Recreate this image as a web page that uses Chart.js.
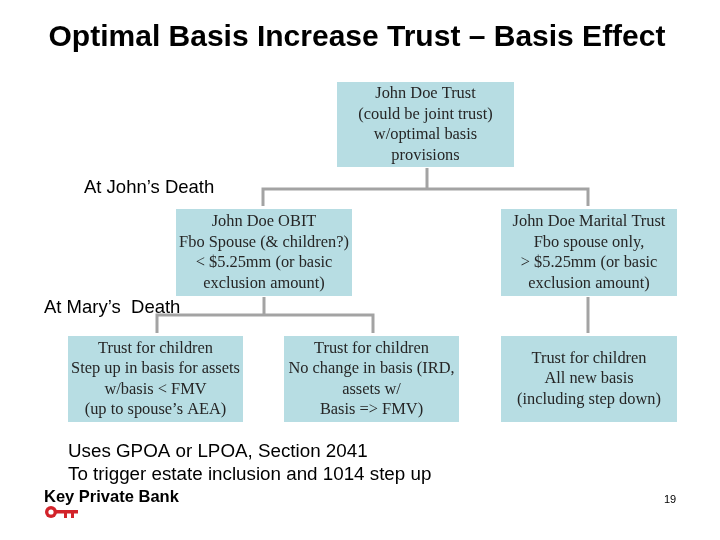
<!DOCTYPE html>
<html>
<head>
<meta charset="utf-8">
<script src="https://cdn.jsdelivr.net/npm/chart.js@4.4.1/dist/chart.umd.min.js"></script>
<style>
  html, body { margin: 0; padding: 0; background: #ffffff; }
  #wrap { width: 720px; height: 540px; }
</style>
</head>
<body>
<div id="wrap"><canvas id="diagram" width="720" height="540"></canvas></div>
<script>
// --- content ---
const titleText = "Optimal Basis Increase Trust \u2013 Basis Effect";
const stageLabels = ["At John\u2019s Death", "At Mary\u2019s  Death"];
const boxLabels = [
    ["John Doe Trust", "(could be joint trust)", "w/optimal basis", "provisions"],
    ["John Doe OBIT", "Fbo Spouse (& children?)", "< $5.25mm (or basic", "exclusion amount)"],
    ["John Doe Marital Trust", "Fbo spouse only,", "> $5.25mm (or basic", "exclusion amount)"],
    ["Trust for children", "Step up in basis for assets", "w/basis < FMV", "(up to spouse\u2019s AEA)"],
    ["Trust for children", "No change in basis (IRD,", "assets w/", "Basis => FMV)"],
    ["Trust for children", "All new basis", "(including step down)"]
];
const footerLines = ["Uses GPOA or LPOA, Section 2041", "To trigger estate inclusion and 1014 step up"];
const brandText = "Key Private Bank";
const pageNumber = "19";

// --- layout (pixel space of a 720x540 slide) ---
const boxRects = [
    [337, 82, 514, 167],
    [176, 209, 352, 296],
    [501, 209, 677, 296],
    [68, 336, 243, 422],
    [284, 336, 459, 422],
    [501, 336, 677, 422]
];
const connectorPaths = [
    [[427, 168], [427, 189]],
    [[263, 206], [263, 189], [588, 189], [588, 206]],
    [[264, 297], [264, 315]],
    [[157, 333], [157, 315], [373, 315], [373, 333]],
    [[588, 297], [588, 333]]
];
const stagePos = [[84, 188], [44, 308]];

const BOX_FILL = '#b7dde3';
const LINE_COLOR = '#a3a3a3';

const px = (chart, x, y) => [chart.scales.x.getPixelForValue(x), chart.scales.y.getPixelForValue(y)];

const slidePlugin = {
    id: 'slide',
    beforeDatasetsDraw(chart) {
        const ctx = chart.ctx;
        ctx.save();
        // boxes
        boxRects.forEach((r, i) => {
            const [x0, y0] = px(chart, r[0], r[1]);
            const [x1, y1] = px(chart, r[2], r[3]);
            ctx.fillStyle = BOX_FILL;
            ctx.fillRect(x0, y0, x1 - x0, y1 - y0);
            const lines = boxLabels[i];
            const lh = 20.5;
            const cx = (x0 + x1) / 2;
            const cy = (y0 + y1) / 2;
            ctx.fillStyle = '#262626';
            ctx.font = '16.4px "Liberation Serif", "DejaVu Serif", serif';
            ctx.textAlign = 'center';
            ctx.textBaseline = 'middle';
            lines.forEach((t, k) => {
                ctx.fillText(t, cx, cy + (k - (lines.length - 1) / 2) * lh);
            });
        });
        ctx.restore();
    },
    afterDatasetsDraw(chart) {
        const ctx = chart.ctx;
        ctx.save();
        // title
        ctx.fillStyle = '#000000';
        ctx.font = 'bold 30px "Liberation Sans", Arial, sans-serif';
        ctx.textAlign = 'center';
        ctx.textBaseline = 'middle';
        let p = px(chart, 357, 38);
        ctx.fillText(titleText, p[0], p[1]);

        // stage labels
        ctx.font = '18.5px "Liberation Sans", Arial, sans-serif';
        ctx.textAlign = 'left';
        stageLabels.forEach((t, i) => {
            const q = px(chart, stagePos[i][0], stagePos[i][1]);
            ctx.fillText(t, q[0], q[1]);
        });

        // footer notes
        ctx.font = '18.8px "Liberation Sans", Arial, sans-serif';
        footerLines.forEach((t, i) => {
            const q = px(chart, 68, 452 + i * 23);
            ctx.fillText(t, q[0], q[1]);
        });

        // brand
        ctx.font = 'bold 16.5px "Liberation Sans", Arial, sans-serif';
        p = px(chart, 44, 497);
        ctx.fillText(brandText, p[0], p[1]);

        // key logo
        ctx.fillStyle = '#d2232a';
        p = px(chart, 51, 512);
        ctx.beginPath();
        ctx.arc(p[0], p[1], 6, 0, Math.PI * 2);
        ctx.fill();
        ctx.fillRect(p[0] + 4, p[1] - 2, 23, 3.5);
        ctx.fillRect(p[0] + 13, p[1], 3, 6);
        ctx.fillRect(p[0] + 20, p[1], 3, 6);
        ctx.fillStyle = '#ffffff';
        ctx.beginPath();
        ctx.arc(p[0], p[1], 2.6, 0, Math.PI * 2);
        ctx.fill();

        // page number
        ctx.fillStyle = '#000000';
        ctx.font = '11px "Liberation Sans", Arial, sans-serif';
        p = px(chart, 664, 500);
        ctx.fillText(pageNumber, p[0], p[1]);
        ctx.restore();
    }
};

const datasets = connectorPaths.map((path, i) => ({
    label: 'link' + i,
    data: path.map(pt => ({ x: pt[0], y: pt[1] })),
    showLine: true,
    borderColor: LINE_COLOR,
    borderWidth: 3,
    pointRadius: 0,
    fill: false,
    tension: 0,
    borderJoinStyle: 'miter',
    borderCapStyle: 'butt'
}));

new Chart(document.getElementById('diagram'), {
    type: 'scatter',
    data: { datasets: datasets },
    options: {
        responsive: false,
        animation: false,
        layout: { padding: 0 },
        plugins: { legend: { display: false }, tooltip: { enabled: false }, title: { display: false } },
        scales: {
            x: { type: 'linear', min: 0, max: 720, display: false },
            y: { type: 'linear', min: 0, max: 540, reverse: true, display: false }
        }
    },
    plugins: [slidePlugin]
});
</script>
</body>
</html>
